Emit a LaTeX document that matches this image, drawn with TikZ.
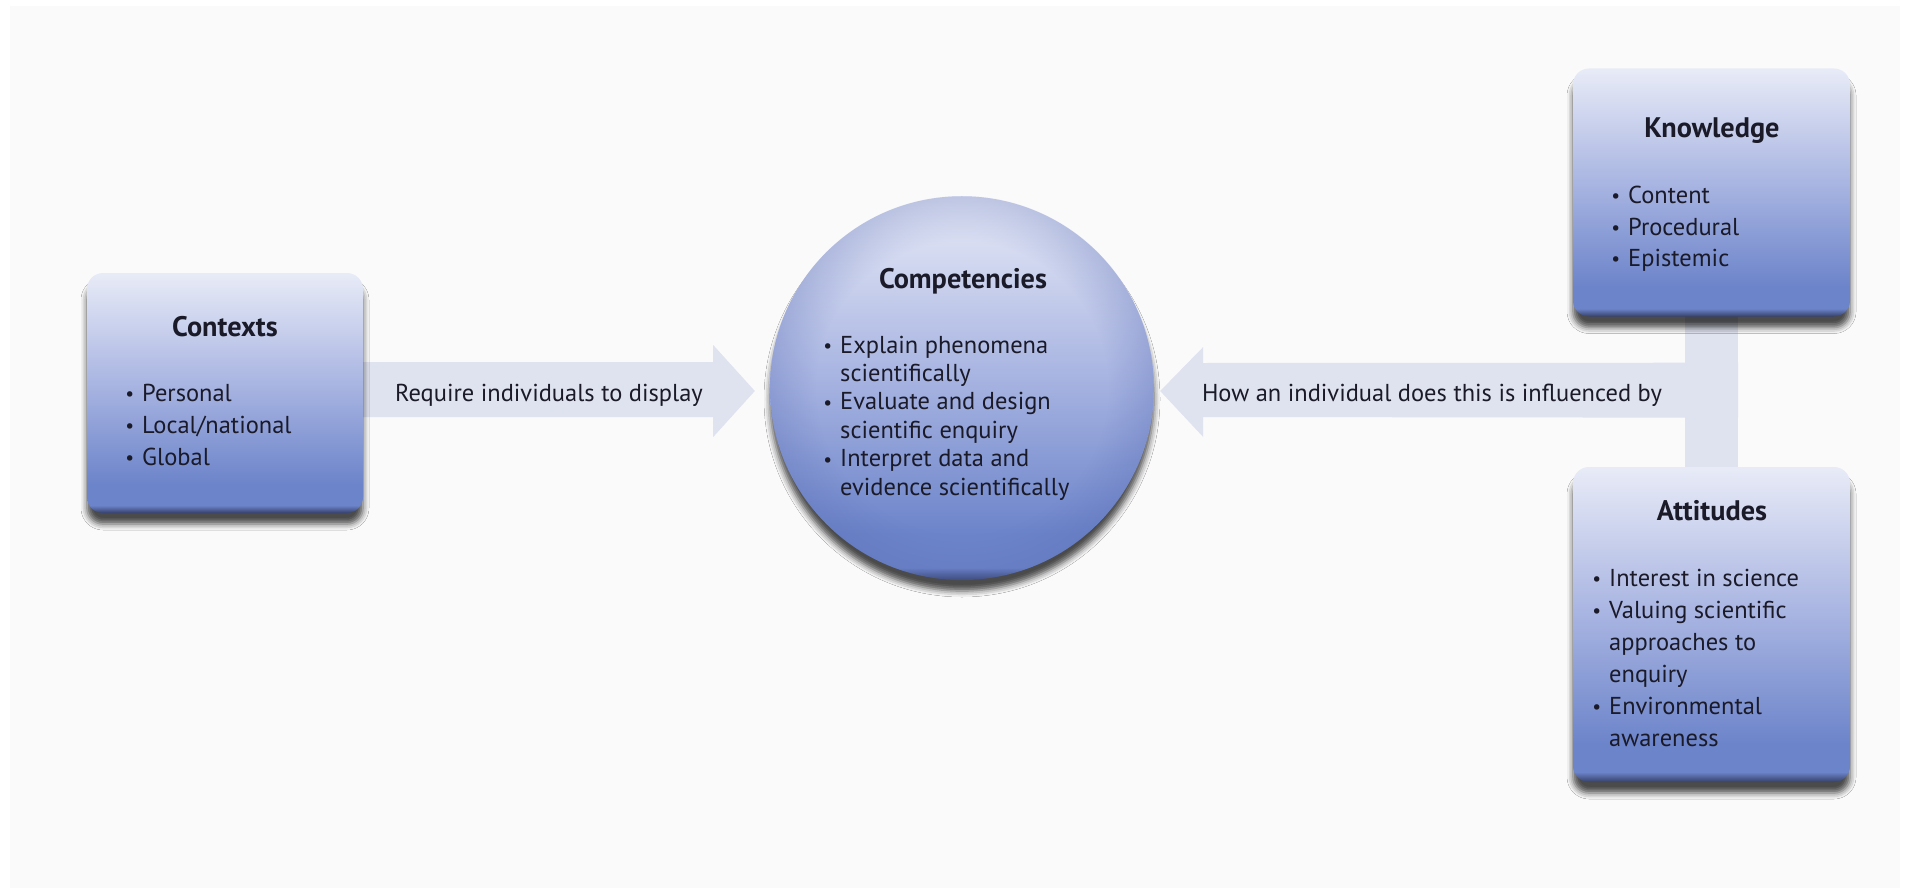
\documentclass[tikz,border=0pt]{standalone}
\usepackage{fontspec}
\setmainfont{PT Sans}
\usetikzlibrary{calc,shadows.blur,fadings}
\definecolor{bgc}{HTML}{FAFAFA}
\definecolor{arr}{HTML}{DFE2EF}
\definecolor{btop}{HTML}{E8EBF7}
\definecolor{bmid}{HTML}{A9B5E2}
\definecolor{bbot}{HTML}{6C84CA}
\definecolor{bdark}{HTML}{35406A}
\definecolor{rimc}{HTML}{5A6DB5}
\definecolor{txt}{HTML}{1A1A28}
\pgfdeclareverticalshading{panelshade}{100bp}{color(0bp)=(bdark); color(25bp)=(bdark); color(26.6bp)=(bbot); color(31bp)=(bbot); color(52bp)=(bmid); color(75bp)=(btop); color(100bp)=(btop)}
\pgfdeclareradialshading{rimshade}{\pgfpoint{0bp}{0bp}}{color(0bp)=(pgftransparent!100); color(19bp)=(pgftransparent!100); color(25bp)=(pgftransparent!70); color(50bp)=(pgftransparent!70)}
\pgfdeclarefading{rimfade}{\pgfuseshading{rimshade}}
\newlength\mylenA
\newlength\mylenB
\newcommand\bul{\llap{\raisebox{0.5pt}{\scalebox{0.8}{•}}\hspace{8pt}}}
\AtBeginDocument{%
\settowidth\mylenA{\fontsize{20}{24}\selectfont How an individual does this is influenced by}%
\pgfmathsetmacro\bodyfs{20*460/\mylenA}%
\xdef\bodyfs{\bodyfs}%
\settowidth\mylenB{\fontsize{20}{24}\selectfont\bfseries Competencies}%
\pgfmathsetmacro\titlefs{20*168/\mylenB}%
\xdef\titlefs{\titlefs}%
}
\begin{document}
\begin{tikzpicture}[x=1pt,y=-1pt]
\tikzset{
  softshadow/.style={blur shadow={shadow xshift=0pt, shadow yshift=-11pt, shadow blur radius=6pt, shadow opacity=70}},
  panel/.style={rectangle, rounded corners=16pt, shading=panelshade, softshadow},
  ball/.style={circle, shading=panelshade, softshadow},
  body/.style={font=\fontsize{\bodyfs}{\bodyfs}\selectfont, text=txt, inner sep=0pt},
  ttl/.style={font=\bfseries\fontsize{\titlefs}{\titlefs}\selectfont, text=txt, inner sep=0pt, anchor=base},
  li/.style={body, anchor=base west},
  arrowfill/.style={fill=arr, draw=none}
}
\useasboundingbox (0,0) rectangle (1906,888);
\fill[white] (0,0) rectangle (1906,888);
\fill[bgc] (10,6) rectangle (1900,888);

% positions
\path (225,393) coordinate (ctxc);
\path (962,388) coordinate (cmpc);
\path (1711.5,192.5) coordinate (knwc);
\path (1711.5,624.5) coordinate (attc);

% invisible anchors for connectors
\node[minimum width=276pt, minimum height=240pt, inner sep=0pt] (contextsA) at (ctxc) {};
\node[circle, minimum size=384pt, inner sep=0pt] (compA) at (cmpc) {};
\node[minimum width=277pt, minimum height=248pt, inner sep=0pt] (knowledgeA) at (knwc) {};
\node[minimum width=277pt, minimum height=315pt, inner sep=0pt] (attitudesA) at (attc) {};

% connectors (drawn beneath the shapes)
\fill[arrowfill] ($(contextsA.east)+(-20,-31)$) -- ($(contextsA.east)+(350,-31)$)
  -- ($(contextsA.east)+(350,-48)$) -- ($(compA.west)+(-15,3)$)
  -- ($(contextsA.east)+(350,44)$) -- ($(contextsA.east)+(350,24)$)
  -- ($(contextsA.east)+(-20,24)$) -- cycle;
\fill[arrowfill] ($(compA.east)+(6,3)$) -- ($(compA.east)+(49,-41)$)
  -- ($(compA.east)+(49,-25)$) -- ($(knowledgeA.south)+(26.5,46)$)
  -- ($(knowledgeA.south)+(26.5,101)$) -- ($(compA.east)+(49,29)$)
  -- ($(compA.east)+(49,49)$) -- cycle;
\fill[arrowfill] ($(knowledgeA.south)+(-26.5,-10)$) rectangle ($(attitudesA.north)+(26.5,10)$);

% shapes
\node[panel, minimum width=276pt, minimum height=240pt, inner sep=0pt] (contexts) at (ctxc) {};
\node[ball, minimum size=384pt, inner sep=0pt] (comp) at (cmpc) {};
\fill[rimc, path fading=rimfade] (comp.center) circle[radius=192pt];
\node[panel, minimum width=277pt, minimum height=248pt, inner sep=0pt] (knowledge) at (knwc) {};
\node[panel, minimum width=277pt, minimum height=315pt, inner sep=0pt] (attitudes) at (attc) {};

% arrow labels
\node[body, anchor=base] (lblL) at (549,401) {Require individuals to display};
\node[body, anchor=base] (lblR) at (1432,401) {How an individual does this is influenced by};

% Contexts text
\node[ttl] (ctxT) at (225,336) {Contexts};
\node[li] (ctx1) at (142,401) {\bul Personal};
\node[li] (ctx2) at (142,433) {\bul Local/national};
\node[li] (ctx3) at (142,465) {\bul Global};

% Competencies text
\node[ttl] (cmpT) at (963,288) {Competencies};
\node[li] (cmp1) at (840,353) {\bul Explain phenomena};
\node[li] (cmp2) at (840,381.4) {scientifically};
\node[li] (cmp3) at (840,409.8) {\bul Evaluate and design};
\node[li] (cmp4) at (840,438.2) {scientific enquiry};
\node[li] (cmp5) at (840,466.6) {\bul Interpret data and};
\node[li] (cmp6) at (840,495) {evidence scientifically};

% Knowledge text
\node[ttl] (knwT) at (1712,138) {Knowledge};
\node[li] (knw1) at (1628,203) {\bul Content};
\node[li] (knw2) at (1628,235) {\bul Procedural};
\node[li] (knw3) at (1628,266) {\bul Epistemic};

% Attitudes text
\node[ttl] (attT) at (1712,520) {Attitudes};
\node[li] (att1) at (1609,586) {\bul Interest in science};
\node[li] (att2) at (1609,618) {\bul Valuing scientific};
\node[li] (att3) at (1609,650) {approaches to};
\node[li] (att4) at (1609,682) {enquiry};
\node[li] (att5) at (1609,714) {\bul Environmental};
\node[li] (att6) at (1609,746) {awareness};
\end{tikzpicture}
\end{document}
